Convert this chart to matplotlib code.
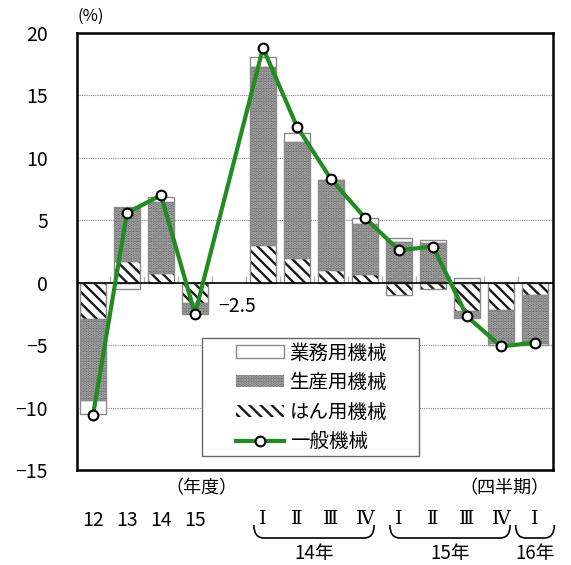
import matplotlib
matplotlib.use('Agg')
import matplotlib.pyplot as plt
import numpy as np
from matplotlib.patches import Patch, Rectangle, PathPatch
from matplotlib.lines import Line2D
from matplotlib.path import Path
import matplotlib.transforms as mtransforms

plt.rcParams['font.family'] = ['Noto Sans CJK JP', 'DejaVu Sans']
plt.rcParams['hatch.linewidth'] = 1.7

# slot positions: 4 fiscal years, one empty slot, then 9 quarters
slots = [0, 1, 2, 3, 5, 6, 7, 8, 9, 10, 11, 12, 13]
tick_labels = ['12', '13', '14', '15', 'Ⅰ', 'Ⅱ', 'Ⅲ', 'Ⅳ', 'Ⅰ', 'Ⅱ', 'Ⅲ', 'Ⅳ', 'Ⅰ']

# contributions (% points)
hanyo = [-2.9, 1.7, 0.8, -1.6, 3.0, 2.0, 1.0, 0.7, -1.0, -0.5, -2.3, -2.2, -1.0]
seisan = [-6.5, 4.4, 5.7, -0.9, 14.3, 9.3, 7.2, 4.0, 3.3, 3.2, -0.5, -2.6, -3.8]
gyomu = [-1.1, -0.5, 0.4, 0.0, 0.8, 0.7, 0.0, 0.5, 0.3, 0.2, 0.4, -0.2, -0.2]
ippan = [-10.6, 5.6, 7.0, -2.5, 18.8, 12.5, 8.3, 5.2, 2.6, 2.9, -2.7, -5.1, -4.8]

year_groups = [('14年', 5, 8, 0.27), ('15年', 9, 12, 0.27), ('16年', 13, 13, 0.57)]

fig = plt.figure(figsize=(5.71, 5.65), dpi=100)
ax = fig.add_axes([0.1349, 0.1681, 0.8336, 0.7735])

x = np.array(slots, dtype=float)
width = 0.79
edge_gray = '#8a8a8a'

styles = [
    ('はん用機械', hanyo, dict(color='white', edgecolor='#1a1a1a', hatch='\\\\\\')),
    ('生産用機械', seisan, dict(color='#6a6a6a', edgecolor='#b4b4b4', hatch='.....')),
    ('業務用機械', gyomu, dict(color='white', edgecolor='white', hatch=None)),
]

pos_bottom = np.zeros(len(x))
neg_bottom = np.zeros(len(x))
handles = {}
for name, vals, st in styles:
    vals = np.array(vals)
    bottom = np.where(vals >= 0, pos_bottom, neg_bottom)
    ax.bar(x, vals, width, bottom=bottom, color=st['color'], edgecolor=st['edgecolor'],
           hatch=st['hatch'], linewidth=0, zorder=2)
    ax.bar(x, vals, width, bottom=bottom, fill=False, edgecolor=edge_gray, linewidth=1.0, zorder=2.5)
    pos_bottom += np.where(vals >= 0, vals, 0)
    neg_bottom += np.where(vals < 0, vals, 0)
    handles[name] = Patch(facecolor=st['color'], edgecolor=st['edgecolor'] if st['hatch'] else edge_gray,
                          hatch=st['hatch'], linewidth=0 if st['hatch'] else 1.0)

ax.plot(x, ippan, color='#228b22', lw=3, marker='o', ms=7, mfc='white', mec='black', mew=1.5, zorder=4)

# value label for FY15
ax.annotate(f"{ippan[3]:.1f}".replace('-', '−'), xy=(x[3], ippan[3]), xytext=(17, 5),
            textcoords='offset points', ha='left', va='center', fontsize=14)

ax.set_xlim(-0.47, 13.53)
ax.set_ylim(-15, 20)
ax.set_yticks(range(-15, 21, 5))
ax.tick_params(axis='y', length=0, pad=21, labelsize=14)
ax.tick_params(axis='x', length=0, pad=29, labelsize=14)
ax.set_xticks(x)
ax.set_xticklabels(tick_labels)
for lbl in ax.get_xticklabels()[4:]:
    lbl.set_fontfamily(['DejaVu Serif', 'Noto Sans CJK JP'])
    lbl.set_fontsize(14)

for y in [-10, -5, 5, 10, 15]:
    ax.axhline(y, color='#888888', lw=0.8, ls=(0, (1, 1)), zorder=0)
ax.axhline(0, color='black', lw=1.2, zorder=3)
# category boundary ticks on the zero line
ax.vlines(np.arange(0.5, 13.0, 1.0), 0, 0.5, color='#b5b5b5', lw=1, zorder=1)

for sp in ax.spines.values():
    sp.set_linewidth(1.8)

ax.text(0.0, 1.037, '(%)', transform=ax.transAxes, ha='left', va='center', fontsize=12)

blend = mtransforms.blended_transform_factory(ax.transData, fig.transFigure)
fig_y = lambda px: 1 - px / 565.0
ax.text(3.2, fig_y(488), '（年度）', transform=blend, ha='center', va='center', fontsize=13, clip_on=False)
ax.text(12.1, fig_y(488), '（四半期）', transform=blend, ha='center', va='center', fontsize=13, clip_on=False)

# braces grouping quarters into years
for label, first, last, pad in year_groups:
    x0, x1 = first - pad, last + pad
    yt, yb = fig_y(525), fig_y(538)
    r = 0.3
    verts = [(x0, yt), (x0, yb), (x0 + r, yb), (x1 - r, yb), (x1, yb), (x1, yt)]
    codes = [Path.MOVETO, Path.CURVE3, Path.CURVE3, Path.LINETO, Path.CURVE3, Path.CURVE3]
    fig.add_artist(PathPatch(Path(verts, codes), fill=False, lw=1.2, edgecolor='black', transform=blend))
    ax.text((x0 + x1) / 2, fig_y(554), label, transform=blend, ha='center', va='center',
            fontsize=13.5, clip_on=False)

# legend with its own frame
legend_box = Rectangle((0.263, 0.032), 0.455, 0.27, transform=ax.transAxes, facecolor='white',
                       edgecolor='#666666', lw=1, zorder=5)
ax.add_patch(legend_box)
line_handle = Line2D([], [], color='#228b22', lw=3, marker='o', ms=7, mfc='white', mec='black', mew=1.5)
leg = ax.legend([handles['業務用機械'], handles['生産用機械'], handles['はん用機械'], line_handle],
                ['業務用機械', '生産用機械', 'はん用機械', '一般機械'],
                loc='lower left', bbox_to_anchor=(0.318, 0.023), frameon=False, fontsize=14,
                handlelength=2.45, handleheight=0.6, handletextpad=0.3, labelspacing=0.44,
                borderpad=0.4, borderaxespad=0)
leg.set_zorder(6)

fig.savefig('out.png', dpi=100)
